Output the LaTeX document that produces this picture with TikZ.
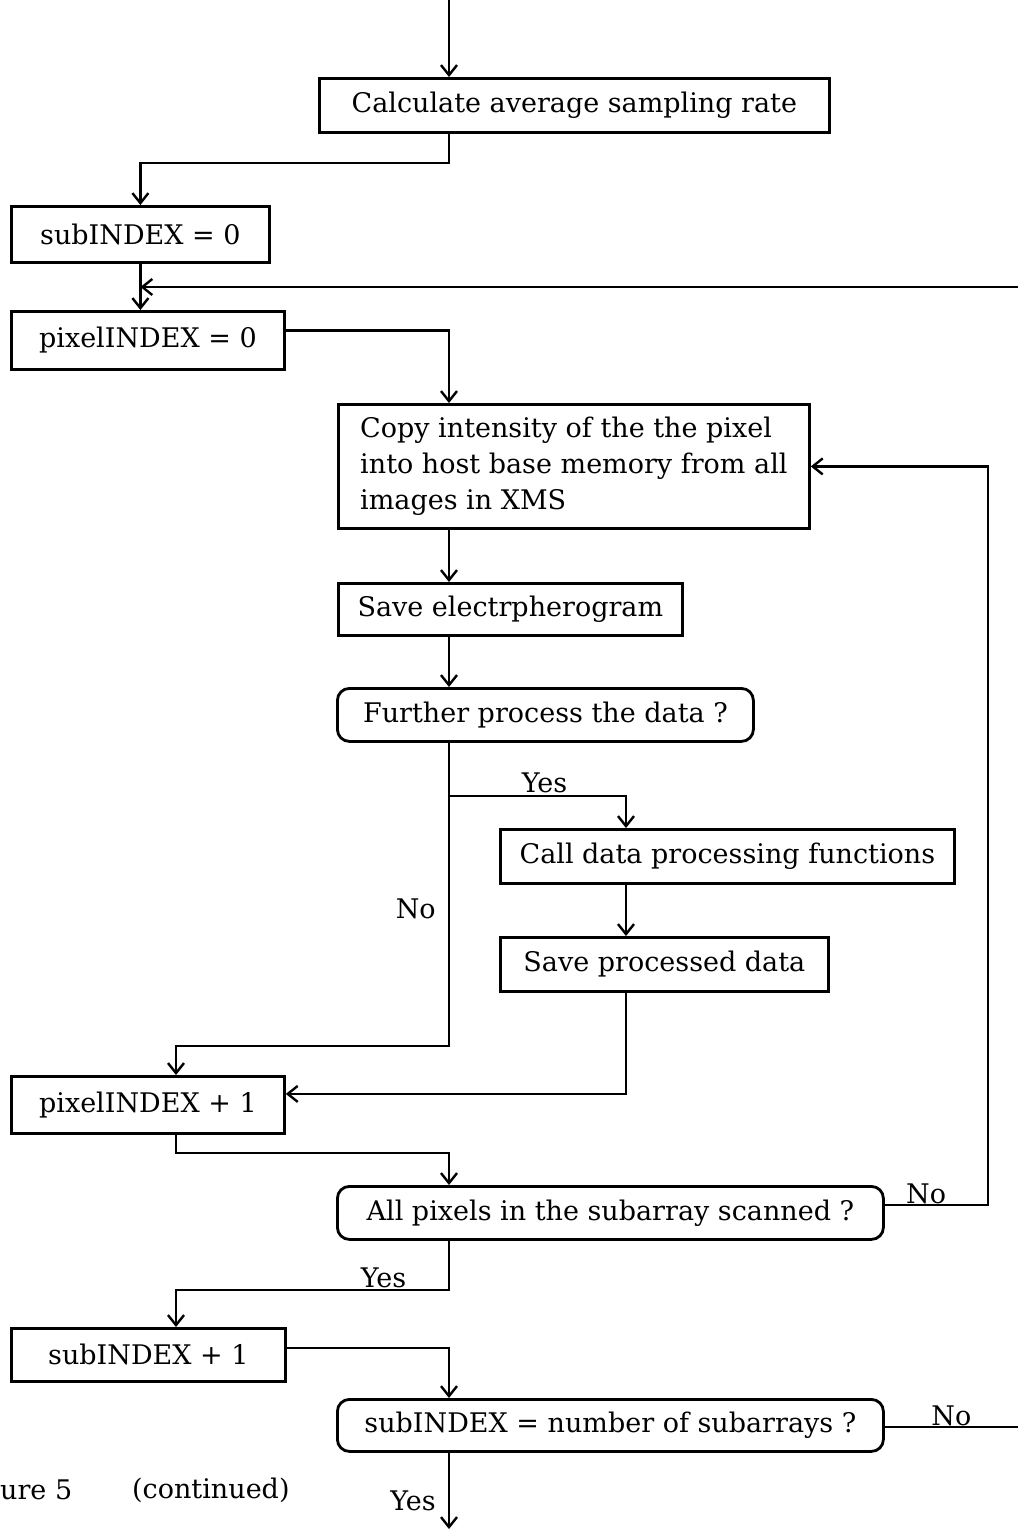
\documentclass[tikz,border=0pt]{standalone}
\usepackage{fontspec}
\setmainfont{DejaVu Serif}
\usetikzlibrary{arrows.meta}
\newcommand{\boxfont}{\fontsize{27}{36}\selectfont}

\begin{document}
\begin{tikzpicture}[x=1pt, y=-1pt,
    box/.style={draw, rectangle, anchor=north west, line width=2.8pt, inner xsep=10pt, inner ysep=0pt, align=left, font=\boxfont},
    dec/.style={box, rounded corners=12pt},
    flow/.style={line width=2.6pt, -{Straight Barb[length=10pt, width=16pt, line width=2.4pt]}},
    line/.style={line width=2.6pt},
    lbl/.style={font=\boxfont, inner sep=2pt}]
    \useasboundingbox (0,0) rectangle (1018,1529);

    % Spines
    \coordinate (top) at (449,0);
    \coordinate (lspine) at (176,0);
    \coordinate (branch) at (626,0);
    \coordinate (rloop) at (988,0);
    \coordinate (edge-top) at (1018,287);
    \coordinate (edge-bot) at (1018,1427);
    \coordinate (fork) at (449,796);
    \coordinate (join) at (449,1046);
    \coordinate (yes-turn) at (449,1290);
    \coordinate (bottom) at (449,1529);

    % Boxes
    \node[box, minimum width=510pt, minimum height=54pt] (box-calc) at (318,77) {Calculate average sampling rate};
    \node[box, minimum width=258pt, minimum height=56pt] (box-subzero) at (10,205) {subINDEX = 0};
    \node[box, minimum width=273pt, minimum height=58pt] (box-pixzero) at (10,310) {pixelINDEX = 0};
    \node[box, minimum width=471pt, minimum height=124pt] (box-copy) at (337,403) {Copy intensity of the the pixel\\into host base memory from all\\images in XMS};
    \node[box, minimum width=344pt, minimum height=52pt] (box-save) at (337,582) {Save electrpherogram};
    \node[dec, minimum width=416pt, minimum height=53pt] (dec-further) at (336,687) {Further process the data ?};
    \node[box, minimum width=454pt, minimum height=54pt] (box-call) at (499,828) {Call data processing functions};
    \node[box, minimum width=328pt, minimum height=54pt] (box-saveproc) at (499,936) {Save processed data};
    \node[box, minimum width=273pt, minimum height=57pt] (box-pixinc) at (10,1075) {pixelINDEX + 1};
    \node[dec, minimum width=546pt, minimum height=53pt] (dec-scanned) at (336,1185) {All pixels in the subarray scanned ?};
    \node[box, minimum width=274pt, minimum height=53pt] (box-subinc) at (10,1327) {subINDEX + 1};
    \node[dec, minimum width=546pt, minimum height=52pt] (dec-subarrays) at (336,1398) {subINDEX = number of subarrays ?};

    % Caption
    \node[lbl, anchor=west, inner sep=0pt] (cap-fig) at (0,1490) {ure 5};
    \node[lbl, anchor=west, inner sep=0pt] (cap-cont) at (132,1490) {(continued)};

    % Connectors
    \draw[flow] (top) -- (top |- box-calc.north);
    \draw[flow] (top |- box-calc.south) -- ++(0,29) -| (box-subzero.north);
    \draw[flow] (box-subzero.south) -- (box-subzero.south |- box-pixzero.north);
    \draw[flow] (edge-top) -- (edge-top -| box-subzero.south);
    \draw[flow] ([yshift=10pt]box-pixzero.east) -| (top |- box-copy.north);
    \draw[flow] (top |- box-copy.south) -- (top |- box-save.north);
    \draw[flow] (top |- box-save.south) -- (top |- dec-further.north);
    \draw[flow] (top |- dec-further.south) -- (fork) -| node[lbl, pos=0.27, above] {Yes} (branch |- box-call.north);
    \draw[flow] (fork) -- node[lbl, pos=0.45, left, inner sep=12pt] {No} (join) -| (lspine |- box-pixinc.north);
    \draw[flow] (branch |- box-call.south) -- (branch |- box-saveproc.north);
    \draw[flow] (branch |- box-saveproc.south) |- ([yshift=11pt]box-pixinc.east);
    \draw[flow] (lspine |- box-pixinc.south) -- ++(0,18) -| (top |- dec-scanned.north);
    \draw[flow] ([yshift=8pt]dec-scanned.east) -| node[lbl, pos=0.2, above, inner sep=0pt] {No} (rloop |- box-copy.east) -- (box-copy.east);
    \draw[flow] (top |- dec-scanned.south) -- (yes-turn) -| node[lbl, pos=0.12, above, inner sep=1pt] {Yes} (lspine |- box-subinc.north);
    \draw[flow] ([yshift=7pt]box-subinc.east) -| (top |- dec-subarrays.north);
    \draw[line] (dec-subarrays.east |- edge-bot) -- node[lbl, above, inner sep=0pt] {No} (edge-bot);
    \draw[flow] (top |- dec-subarrays.south) -- node[lbl, pos=0.63, left, inner sep=12pt] {Yes} (bottom);
\end{tikzpicture}
\end{document}
